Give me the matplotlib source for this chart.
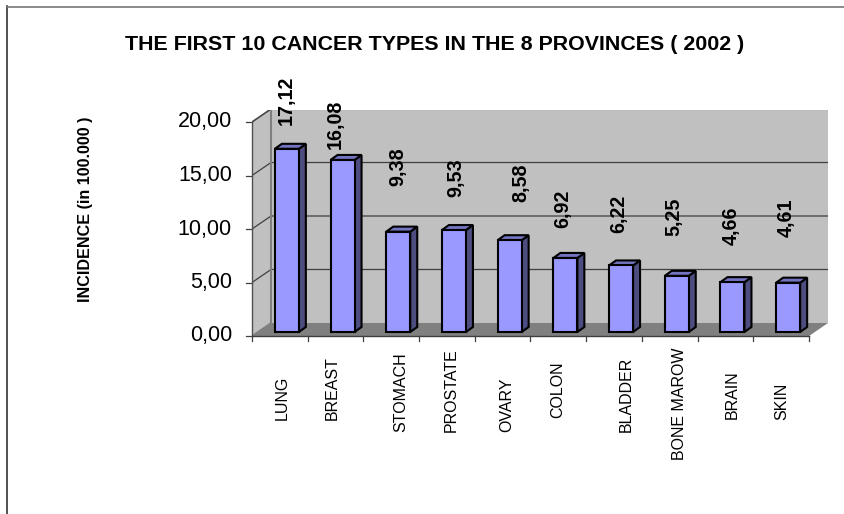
import numpy as np
import matplotlib
matplotlib.use('Agg')
import matplotlib.pyplot as plt
from matplotlib.patches import Polygon

categories = ['LUNG', 'BREAST', 'STOMACH', 'PROSTATE', 'OVARY',
              'COLON', 'BLADDER', 'BONE MAROW', 'BRAIN', 'SKIN']
values = [17.12, 16.08, 9.38, 9.53, 8.58, 6.92, 6.22, 5.25, 4.66, 4.61]
value_labels = ['17,12', '16,08', '9,38', '9,53', '8,58',
                '6,92', '6,22', '5,25', '4,66', '4,61']
y_ticks = [0, 5, 10, 15, 20]
y_tick_labels = ['0,00', '5,00', '10,00', '15,00', '20,00']

# hand placed labels, the original chart nudges them around (all in pixels)
label_lift = [49, 36, 65, 52, 57, 49, 52, 59, 56, 65]
label_shift = [-1, -7, 0, 2, 11, -3, -2, -3, -1, -2]
cat_shift = [2, -3, 10, 4, 4, -1, 12, 10, 7, 1]
cat_drop = [84, 84, 96, 96, 96, 82, 96, 124, 83, 84]

plt.rcParams['font.family'] = ['Liberation Sans', 'DejaVu Sans']

W, H = 845, 514
PT = 0.72   # points per pixel at dpi 100
fig = plt.figure(figsize=(W / 100, H / 100), dpi=100)

# axes box runs from the front axis to the back wall corner (pixels)
left, right, top, bottom = 252, 828, 110, 336
ax = fig.add_axes([left / W, 1 - bottom / H, (right - left) / W, (bottom - top) / H])
px_x = 55.7                      # pixels per category
px_y = 214 / 20                  # pixels per unit
ax.set_xlim(0, (right - left) / px_x)
ax.set_ylim(0, (bottom - top) / px_y)
ax.axis('off')

dx, dy = 19 / px_x, 13 / px_y    # depth of the 3d box
n = len(categories)

# walls and floor
ax.add_patch(Polygon([(dx, dy), (n + dx, dy), (n + dx, 20 + dy), (dx, 20 + dy)],
                     fc='#c0c0c0', ec='none', zorder=1))
ax.add_patch(Polygon([(0, 0), (dx, dy), (dx, 20 + dy), (0, 20)],
                     fc='#c0c0c0', ec='#808080', lw=1.2, zorder=1))
ax.add_patch(Polygon([(0, 0), (n, 0), (n + dx, dy), (dx, dy)],
                     fc='#808080', ec='none', zorder=1))

# gridlines, wall part and back part
for t in y_ticks[1:]:
    ax.plot([0, dx, n + dx], [t, t + dy, t + dy], color='#404040', lw=0.9, zorder=2)
ax.plot([dx, n + dx], [20 + dy, 20 + dy], color='#808080', lw=1.5, zorder=2)
ax.plot([dx, dx], [dy, 20 + dy], color='#808080', lw=1.5, zorder=2)

# front axis lines and ticks
ax.plot([0, 0], [0, 20], color='#505050', lw=1, zorder=3, clip_on=False)
ax.plot([0, n], [0, 0], color='#404040', lw=1, zorder=3, clip_on=False)
for t in y_ticks:
    ax.plot([-6 / px_x, 0], [t, t], color='#404040', lw=0.9, clip_on=False)
for i in range(n + 1):
    ax.plot([i, i], [0, -5 / px_y], color='#404040', lw=0.9, clip_on=False)

# bars
bar_w = 24 / px_x
off_x, off_y = 7 / px_x, 4 / px_y
side_x, side_y = 7 / px_x, 5 / px_y
for i, v in enumerate(values):
    x0 = i + 0.5 + off_x - bar_w / 2
    x1 = x0 + bar_w
    y0 = off_y
    y1 = off_y + v
    ax.bar(x0, v, width=bar_w, bottom=y0, align='edge', color='#9999ff',
           edgecolor='black', linewidth=1.5, zorder=5)
    ax.add_patch(Polygon([(x1, y0), (x1 + side_x, y0 + side_y),
                          (x1 + side_x, y1 + side_y), (x1, y1)],
                         fc='#4d4d80', ec='black', lw=1.5, zorder=4))
    ax.add_patch(Polygon([(x0, y1), (x0 + side_x, y1 + side_y),
                          (x1 + side_x, y1 + side_y), (x1, y1)],
                         fc='#7373bf', ec='black', lw=1.5, zorder=4))
    ax.annotate(value_labels[i], (i + 0.5 + off_x, y1),
                xytext=(label_shift[i] * PT, label_lift[i] * PT),
                textcoords='offset points', rotation=90, ha='center', va='center',
                fontsize=14.2, fontweight='bold', color='black', zorder=6,
                annotation_clip=False)
    ax.annotate(categories[i], (i + 0.5, 0),
                xytext=(cat_shift[i] * PT, -cat_drop[i] * PT),
                textcoords='offset points', rotation=90, ha='center', va='bottom',
                fontsize=11.5, color='black', annotation_clip=False)

for t, lab in zip(y_ticks, y_tick_labels):
    ax.annotate(lab, (0, t), xytext=(-20 * PT, 0), textcoords='offset points', ha='right',
                va='center', fontsize=15.5, color='black', annotation_clip=False)

fig.text(435 / W, 1 - 44 / H, 'THE FIRST 10 CANCER TYPES IN THE 8 PROVINCES ( 2002 )',
         ha='center', va='center', fontsize=15.4, fontweight='bold')
fig.text(86 / W, 1 - 209 / H, 'INCIDENCE (in 100.000 )', rotation=90, ha='center',
         va='center', fontsize=11.6, fontweight='bold')

# chart frame, only top and left show
fig.add_artist(plt.Line2D([7.5 / W, 7.5 / W], [0, 1 - 6 / H], color='#333333', lw=1.2))
fig.add_artist(plt.Line2D([7 / W, 1], [1 - 6.5 / H, 1 - 6.5 / H], color='#777777', lw=1.2))

fig.savefig('out.png', dpi=100)
